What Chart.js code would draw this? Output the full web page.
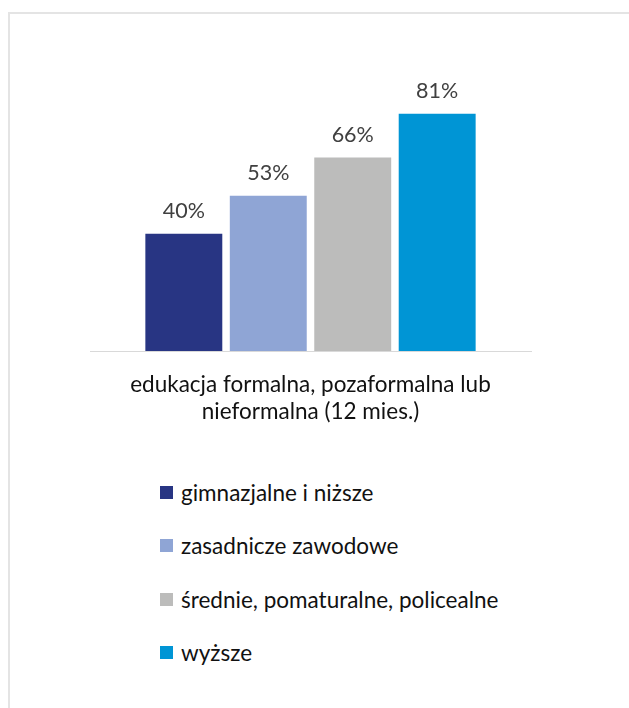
<!doctype html>
<html lang="pl">
<head>
  <meta charset="utf-8">
  <title>Edukacja wg wykształcenia</title>
  <script src="https://cdn.jsdelivr.net/npm/chart.js"></script>
  <style>
    html,body{margin:0;padding:0;background:#fff;}
    body{width:629px;height:708px;position:relative;overflow:hidden;font-family:Lato,"Noto Sans",sans-serif;}
    .frame{position:absolute;left:8px;top:12px;width:640px;height:720px;border:2px solid #e4e4e4;box-sizing:border-box;}
    .chart-box{position:absolute;left:0;top:0;width:629px;height:461px;}
    #legend{position:absolute;left:160px;top:466px;margin:0;padding:0;list-style:none;}
    #legend li{display:flex;align-items:center;height:53.3px;font-size:22.5px;color:#111;}
    #legend .sw{width:13px;height:13px;margin-right:8px;display:inline-block;}
  </style>
</head>
<body>
  <div class="frame"></div>
  <div class="chart-box"><canvas id="chart"></canvas></div>
  <ul id="legend"></ul>

  <script>
    /* ─── data ─── */
    const CATEGORIES = [['edukacja formalna, pozaformalna lub', 'nieformalna (12 mies.)']];
    const SERIES     = ['gimnazjalne i niższe', 'zasadnicze zawodowe', 'średnie, pomaturalne, policealne', 'wyższe'];
    const VALUES     = [[40], [53], [66], [81]];
    const COLORS     = ['#283583', '#8fa5d5', '#bcbcbb', '#0095d5'];

    const FONT = 'Lato, "Noto Sans", sans-serif';

    /* percent labels over the bars */
    const valueLabels={
      id:'valueLabels',
      afterDatasetsDraw(chart){
        const {ctx}=chart;
        ctx.save();
        ctx.font='21.5px '+FONT;
        ctx.fillStyle='#404040';
        ctx.textAlign='center';
        ctx.textBaseline='middle';
        chart.data.datasets.forEach((ds,i)=>{
          chart.getDatasetMeta(i).data.forEach((bar,j)=>{
            ctx.fillText(ds.data[j]+'%', bar.x, bar.y-23);
          });
        });
        ctx.restore();
      }
    };

    new Chart(document.getElementById('chart'),{
      type:'bar',
      data:{
        labels:CATEGORIES,
        datasets:SERIES.map((s,i)=>({
          label:s, data:VALUES[i], backgroundColor:COLORS[i],
          categoryPercentage:0.766, barPercentage:0.911
        }))
      },
      options:{
        responsive:true, maintainAspectRatio:false, animation:false,
        layout:{padding:{left:90,right:98,top:58,bottom:15}},
        plugins:{legend:{display:false},tooltip:{enabled:false}},
        scales:{
          y:{display:false,min:0,max:100},
          x:{
            grid:{display:false,drawTicks:false},
            border:{display:true,color:'#d9d9d9',width:1},
            ticks:{color:'#111',padding:20.5,font:{family:FONT,size:22.5,lineHeight:1.2}}
          }
        }
      },
      plugins:[valueLabels]
    });

    /* legend, one item per line */
    const ul=document.getElementById('legend');
    SERIES.forEach((s,i)=>{
      const li=document.createElement('li');
      li.innerHTML='<span class="sw" style="background:'+COLORS[i]+'"></span>'+s;
      ul.appendChild(li);
    });
  </script>
</body>
</html>
